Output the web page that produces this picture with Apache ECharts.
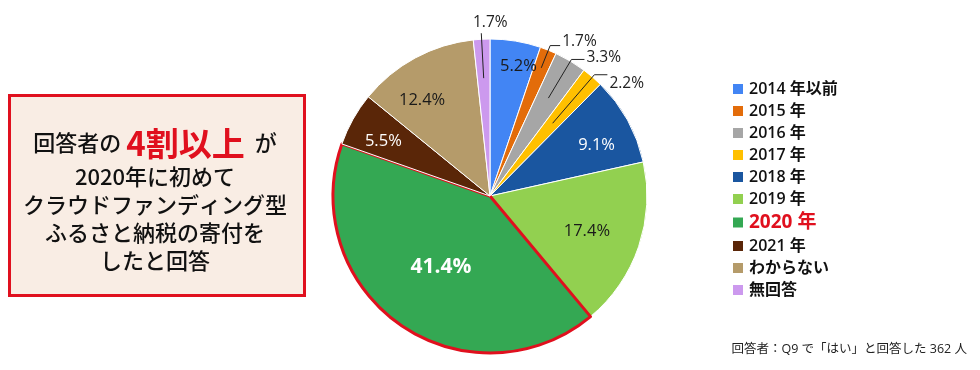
<!DOCTYPE html>
<html><head><meta charset="utf-8">
<script src="https://cdn.jsdelivr.net/npm/echarts@6/dist/echarts.min.js"></script>
<style>html,body{margin:0;padding:0;background:#fff}#c{width:980px;height:370px}</style>
</head><body><div id="c"></div>
<script>
const categories = ['2014 年以前','2015 年','2016 年','2017 年','2018 年','2019 年','2020 年','2021 年','わからない','無回答'];
const values = [5.2, 1.7, 3.3, 2.2, 9.1, 17.4, 41.4, 5.5, 12.4, 1.7];
const colors = ['#4285f4','#e36c0a','#a6a6a6','#ffc000','#1a56a0','#92d050','#34a853','#5a2608','#b59b6a','#cc99ee'];
const insideLabelColors = ['#1a1a1a',null,null,null,'#ffffff','#1a1a1a','#ffffff','#ffffff','#1a1a1a',null];
// layout settings for labels (px / degrees), not data
const insideLabelRadius = [133,null,null,null,118,103,86,120,117,null];
const insideLabelTurn   = [3,null,null,null,3.5,1,0,-2,-7,null];
const outsideLineStart  = [null,138,114,96,null,null,null,null,null,118];
const outsideLabelDy    = [null,-4,-2,9,null,null,null,null,null,0];
const outsideIdx = [1,2,3,9];
const FONT = '"Open Sans", "Noto Sans CJK JP", sans-serif';
const JFONT = '"Noto Sans CJK JP", sans-serif';
const RED = '#e0101e';

const chart = echarts.init(document.getElementById('c'), null, {renderer:'canvas'});
const center = [490, 196];
const R = 157;

const mainData = categories.map((n,i)=>{
  const d = {name:n, value:values[i], itemStyle:{color:colors[i], borderColor:'#fff', borderWidth:1}};
  if (outsideIdx.includes(i)) {
    d.label = {show:false};
  } else {
    d.label = {show:true, position:'inside', color:insideLabelColors[i], fontSize:16.5, fontFamily:FONT};
    if (i===6) { d.label.fontSize=21; d.label.fontWeight='bold'; }
  }
  return d;
});
mainData[6].itemStyle = {color:colors[6], borderColor:RED, borderWidth:3};

const ghostData = categories.map((n,i)=>{
  const d = {name:n, value:values[i], itemStyle:{color:'transparent', borderWidth:0}};
  if (outsideIdx.includes(i)) {
    d.label = {show:true};
  } else {
    d.label = {show:false};
    d.labelLine = {show:false};
  }
  return d;
});
ghostData[9].labelLine = {show:true, length:48, length2:0};
ghostData[1].labelLine = {show:true, length:47, length2:10};
ghostData[2].labelLine = {show:true, length:44, length2:13};
ghostData[3].labelLine = {show:true, length:45, length2:13};

const option = {
  animation:false,
  textStyle:{fontFamily:FONT},
  legend:{
    orient:'vertical', left:728, top:76, itemWidth:10, itemHeight:10, itemGap:6, icon:'rect',
    data:categories, selectedMode:false,
    itemStyle:{borderWidth:0},
    textStyle:{fontSize:16, fontWeight:600, color:'#111', fontFamily:FONT, padding:[0,0,0,1],
      rich:{r:{fontSize:19, fontWeight:'bold', color:RED, fontFamily:FONT}}},
    formatter:(n)=> n==='2020 年' ? '{r|'+n+'}' : n
  },
  series:[
    {
      type:'pie', center:center, radius:[0,R], startAngle:90, clockwise:true,
      data:mainData, label:{formatter:'{c}%'}, labelLine:{show:false}, silent:true, z:2,
      labelLayout:function(p){
        const k = insideLabelRadius[p.dataIndex];
        if (!k) return {};
        const r = p.labelRect;
        const dx = r.x + r.width/2 - center[0], dy = r.y + r.height/2 - center[1];
        const a = Math.atan2(dy,dx) + insideLabelTurn[p.dataIndex]*Math.PI/180;
        return {x:center[0]+Math.cos(a)*k, y:center[1]+Math.sin(a)*k, align:'center', verticalAlign:'middle'};
      }
    },
    {
      type:'pie', center:center, radius:[0,115], startAngle:90, clockwise:true,
      data:ghostData, silent:true, z:3, avoidLabelOverlap:false,
      label:{position:'outside', formatter:'{c}%', color:'#222', fontSize:15.5, fontFamily:FONT, distanceToLabelLine:2},
      labelLine:{lineStyle:{color:'#222', width:1}},
      labelLayout:function(p){
        const i = p.dataIndex;
        if (!outsideLineStart[i] || !p.labelLinePoints) return {};
        const pts = p.labelLinePoints.map(q=>[q[0],q[1]]);
        const bx = pts[1][0]-center[0], by = pts[1][1]-center[1];
        const bl = Math.hypot(bx,by) || 1;
        pts[0] = [center[0]+bx/bl*outsideLineStart[i], center[1]+by/bl*outsideLineStart[i]];
        const e = pts[pts.length-1];
        if (i===9) {
          return {x:e[0]+9, y:e[1]-3, align:'center', verticalAlign:'bottom', labelLinePoints:pts};
        }
        return {x:e[0]+2, y:e[1]+outsideLabelDy[i], align:'left', verticalAlign:'middle', labelLinePoints:pts};
      }
    }
  ],
  graphic:[
    {type:'rect', left:8, top:94, shape:{width:295, height:200},
      style:{fill:'#f9ede4', stroke:RED, lineWidth:3}},
    {type:'text', x:155, y:143, style:{
      text:'{a|回答者の }{b|4割以上}{a|  が}', align:'center', verticalAlign:'middle',
      rich:{a:{fontSize:22, fontWeight:500, fill:'#111', fontFamily:JFONT},
            b:{fontSize:33, fontWeight:'bold', fill:RED, fontFamily:JFONT}}}},
    {type:'text', x:155, y:219, style:{
      text:'2020年に初めて\nクラウドファンディング型\nふるさと納税の寄付を\nしたと回答',
      align:'center', verticalAlign:'middle', fontSize:22, fontWeight:500, lineHeight:28,
      fill:'#111', fontFamily:JFONT}},
    {type:'text', right:13, top:343, style:{text:'回答者：Q9 で「はい」と回答した 362 人',
      fontSize:12.5, fill:'#222', fontFamily:FONT}}
  ]
};
chart.setOption(option);
</script></body></html>
